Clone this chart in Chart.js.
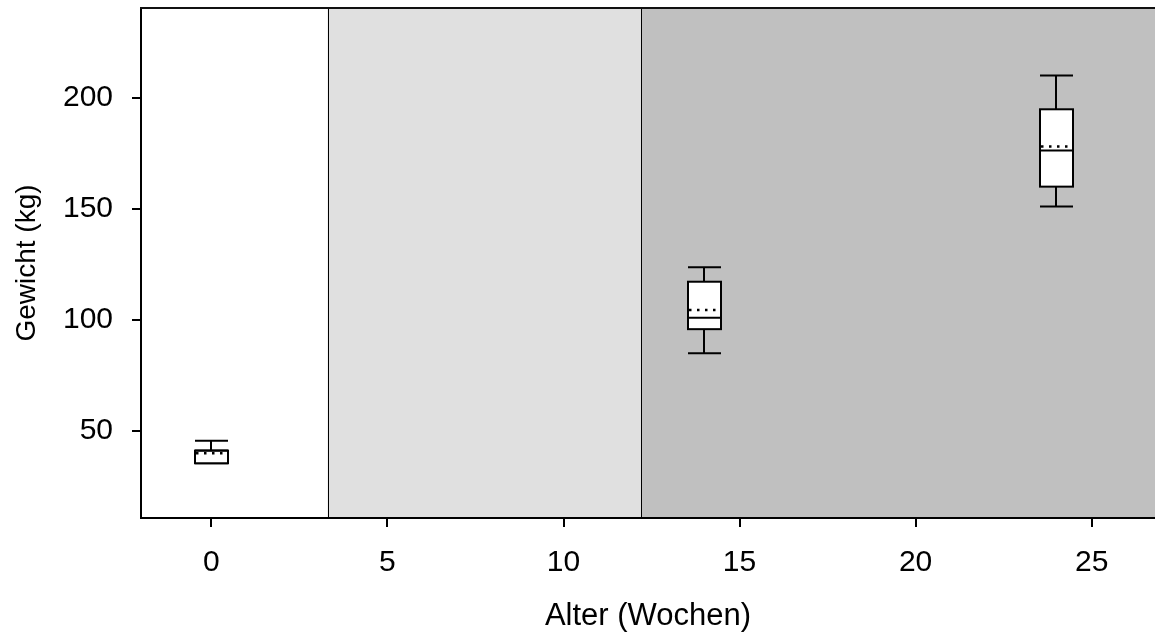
<!DOCTYPE html>
<html><head><meta charset="utf-8">
<script src="https://cdn.jsdelivr.net/npm/chart.js@4.4.1/dist/chart.umd.min.js"></script>
<style>html,body{margin:0;padding:0;background:#fff;overflow:hidden}#wrap{width:1155px;height:637px}</style>
</head><body><div id="wrap"><canvas id="c" width="1155" height="637"></canvas></div>
<script>
// ---- data ----
const ages = [0, 14, 24];
const whiskerLow = [35.3, 84.9, 151.1];
const q1 = [35.3, 95.8, 160.1];
const medians = [41.0, 101.0, 176.4];
const means = [39.8, 104.5, 178.2];
const q3 = [41.0, 117.2, 195.0];
const whiskerHigh = [45.5, 123.7, 210.2];
const phaseBounds = [-2, 3.3, 12.2, 26.8];
const phaseColors = ['#ffffff', '#e0e0e0', '#c0c0c0'];
const xTicks = [0, 5, 10, 15, 20, 25];
const yTicks = [50, 100, 150, 200];
const xTitle = 'Alter (Wochen)';
const yTitle = 'Gewicht (kg)';

const FONT = 'Liberation Sans, Arial, Helvetica, sans-serif';
const BOX_HALF = 0.47;

const phasePlugin = {
  id: 'phases',
  beforeDraw(chart) {
    const {ctx, chartArea: a, scales: {x}} = chart;
    ctx.save();
    for (let i = 0; i < phaseColors.length; i++) {
      const x0 = Math.max(a.left, x.getPixelForValue(phaseBounds[i]));
      const x1 = Math.min(a.right, x.getPixelForValue(phaseBounds[i + 1]));
      ctx.fillStyle = phaseColors[i];
      ctx.fillRect(x0, a.top, x1 - x0, a.bottom - a.top);
    }
    ctx.strokeStyle = '#000';
    ctx.lineWidth = 1;
    for (let i = 1; i < phaseBounds.length - 1; i++) {
      const px = Math.round(x.getPixelForValue(phaseBounds[i])) + 0.5;
      ctx.beginPath();
      ctx.moveTo(px, a.top);
      ctx.lineTo(px, a.bottom);
      ctx.stroke();
    }
    ctx.restore();
  },
  afterDraw(chart) {
    const {ctx, chartArea: a} = chart;
    ctx.save();
    ctx.strokeStyle = '#111';
    ctx.lineWidth = 2;
    ctx.beginPath();
    ctx.moveTo(a.left - 1, a.top);
    ctx.lineTo(a.right, a.top);
    ctx.stroke();
    ctx.restore();
  }
};

const boxPlugin = {
  id: 'boxes',
  afterDatasetsDraw(chart) {
    const {ctx, scales: {x, y}} = chart;
    ctx.save();
    ctx.strokeStyle = '#000';
    ctx.lineWidth = 2;
    for (let i = 0; i < ages.length; i++) {
      const cx = Math.round(x.getPixelForValue(ages[i]));
      const l = Math.round(x.getPixelForValue(ages[i] - BOX_HALF));
      const r = Math.round(x.getPixelForValue(ages[i] + BOX_HALF));
      const yl = y.getPixelForValue(whiskerLow[i]);
      const y1 = y.getPixelForValue(q1[i]);
      const ym = y.getPixelForValue(medians[i]);
      const ya = y.getPixelForValue(means[i]);
      const y3 = y.getPixelForValue(q3[i]);
      const yh = y.getPixelForValue(whiskerHigh[i]);
      ctx.setLineDash([]);
      ctx.beginPath();
      ctx.moveTo(cx, yl); ctx.lineTo(cx, y1);
      ctx.moveTo(cx, y3); ctx.lineTo(cx, yh);
      ctx.moveTo(l, yl); ctx.lineTo(r, yl);
      ctx.moveTo(l, yh); ctx.lineTo(r, yh);
      ctx.stroke();
      ctx.fillStyle = '#fff';
      ctx.fillRect(l, y3, r - l, y1 - y3);
      ctx.strokeRect(l, y3, r - l, y1 - y3);
      ctx.beginPath();
      ctx.moveTo(l, ym); ctx.lineTo(r, ym);
      ctx.stroke();
      ctx.setLineDash([2.5, 5.5]);
      ctx.lineWidth = 2.5;
      ctx.beginPath();
      ctx.moveTo(l + 1, ya); ctx.lineTo(r, ya);
      ctx.stroke();
      ctx.lineWidth = 2;
    }
    ctx.restore();
  }
};

const tickFont = {family: FONT, size: 30};

new Chart(document.getElementById('c'), {
  type: 'scatter',
  data: {
    datasets: [{
      label: 'Mittelwert',
      data: ages.map((a, i) => ({x: a, y: means[i]})),
      pointRadius: 0,
      showLine: false
    }]
  },
  options: {
    responsive: false,
    animation: false,
    devicePixelRatio: 1,
    layout: {padding: {top: 8, right: 0, left: 0, bottom: 0}},
    plugins: {legend: {display: false}, tooltip: {enabled: false}},
    scales: {
      x: {
        type: 'linear',
        min: phaseBounds[0],
        max: phaseBounds[phaseBounds.length - 1],
        afterBuildTicks: s => { s.ticks = xTicks.map(v => ({value: v})); },
        afterFit: s => { s.height = 119; s.paddingLeft = 0; s.paddingRight = 0; },
        grid: {drawOnChartArea: false, drawTicks: true, tickLength: 9, color: '#000', lineWidth: 2},
        border: {display: true, color: '#000', width: 2},
        ticks: {color: '#000', font: tickFont, padding: 18, maxRotation: 0, autoSkip: false},
        title: {display: true, text: xTitle, color: '#000', font: {family: FONT, size: 31}, padding: {top: 0, bottom: 2}}
      },
      y: {
        type: 'linear',
        min: 10.6,
        max: 240.7,
        afterBuildTicks: s => { s.ticks = yTicks.map(v => ({value: v})); },
        afterFit: s => { s.width = 141; s.paddingTop = 0; s.paddingBottom = 0; },
        grid: {drawOnChartArea: false, drawTicks: true, tickLength: 9, color: '#000', lineWidth: 2},
        border: {display: true, color: '#000', width: 2},
        ticks: {color: '#000', font: tickFont, padding: 19, autoSkip: false},
        title: {display: true, text: yTitle, color: '#000', font: {family: FONT, size: 28}, padding: {top: 10, bottom: 0}}
      }
    }
  },
  plugins: [phasePlugin, boxPlugin]
});
</script>
</body></html>
